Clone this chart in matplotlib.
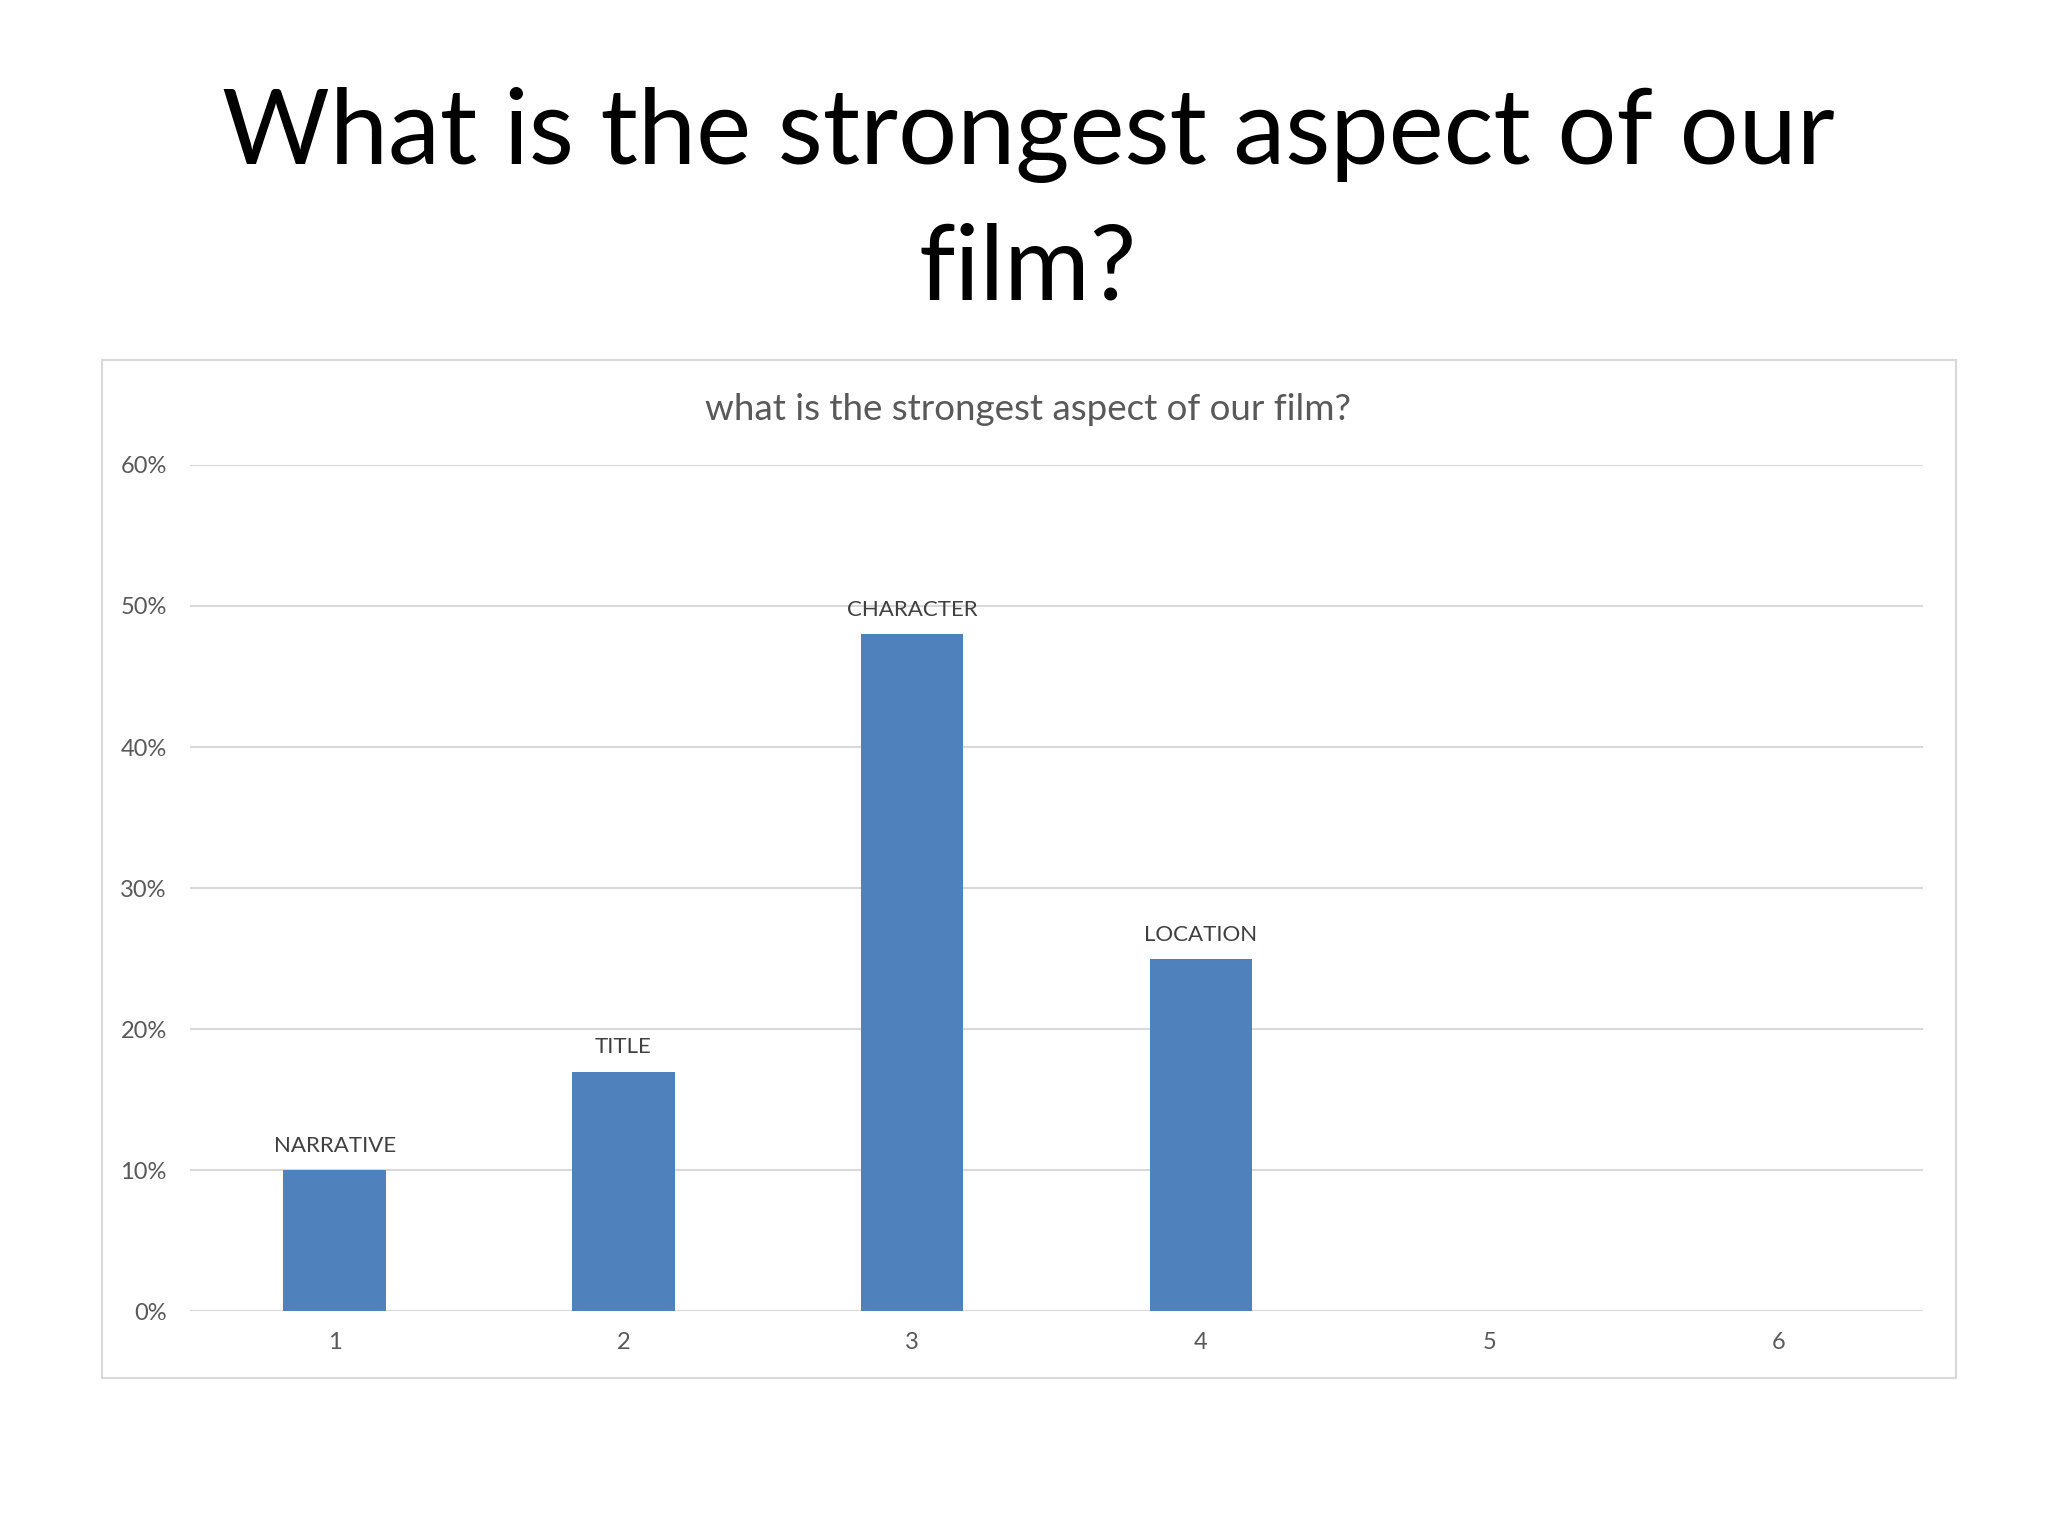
import matplotlib.pyplot as plt
from matplotlib.patches import Rectangle
from matplotlib.ticker import PercentFormatter

# survey answers
positions = [1, 2, 3, 4, 5, 6]
shares = [0.10, 0.17, 0.48, 0.25, 0.0, 0.0]
answer_names = ['NARRATIVE', 'TITLE', 'CHARACTER', 'LOCATION', '', '']
y_ticks = [0, 0.1, 0.2, 0.3, 0.4, 0.5, 0.6]

plt.rcParams['font.family'] = ['Lato', 'DejaVu Sans']

fig = plt.figure(figsize=(20.48, 15.36), dpi=100)

# slide title, two lines
fig.text(0.502, 0.893, 'What is the strongest aspect of our', ha='center', va='baseline',
         fontsize=75, color='black')
fig.text(0.502, 0.805, 'film?', ha='center', va='baseline', fontsize=75, color='black')

# chart frame
fig.patches.append(Rectangle((0.05, 0.1026), 0.905, 0.6632, transform=fig.transFigure,
                             fill=False, edgecolor='#d9d9d9', linewidth=1.5))
fig.text(0.502, 0.7265, 'what is the strongest aspect of our film?', ha='center',
         va='baseline', fontsize=26.5, color='#595959')

ax = fig.add_axes([0.0929, 0.1462, 0.846, 0.5512])
bars = ax.bar(positions, shares, width=0.355, color='#4f81bd', zorder=3)
for b, name in zip(bars, answer_names):
    if name:
        ax.annotate(name, (b.get_x() + b.get_width() / 2, b.get_height()),
                    xytext=(0, 13), textcoords='offset points', ha='center', va='baseline',
                    fontsize=16, color='#404040')

ax.set_xlim(0.5, 6.5)
ax.set_ylim(0, 0.6)
ax.set_xticks(positions)
ax.set_yticks(y_ticks)
ax.yaxis.set_major_formatter(PercentFormatter(1.0, decimals=0))
ax.grid(axis='y', color='#d9d9d9', linewidth=1.5, zorder=0)
ax.tick_params(length=0, labelsize=17, labelcolor='#595959')
ax.tick_params(axis='y', pad=17)
ax.tick_params(axis='x', pad=14.5)
for s in ax.spines.values():
    s.set_visible(False)
ax.set_axisbelow(True)

fig.savefig('out.png', dpi=100)
